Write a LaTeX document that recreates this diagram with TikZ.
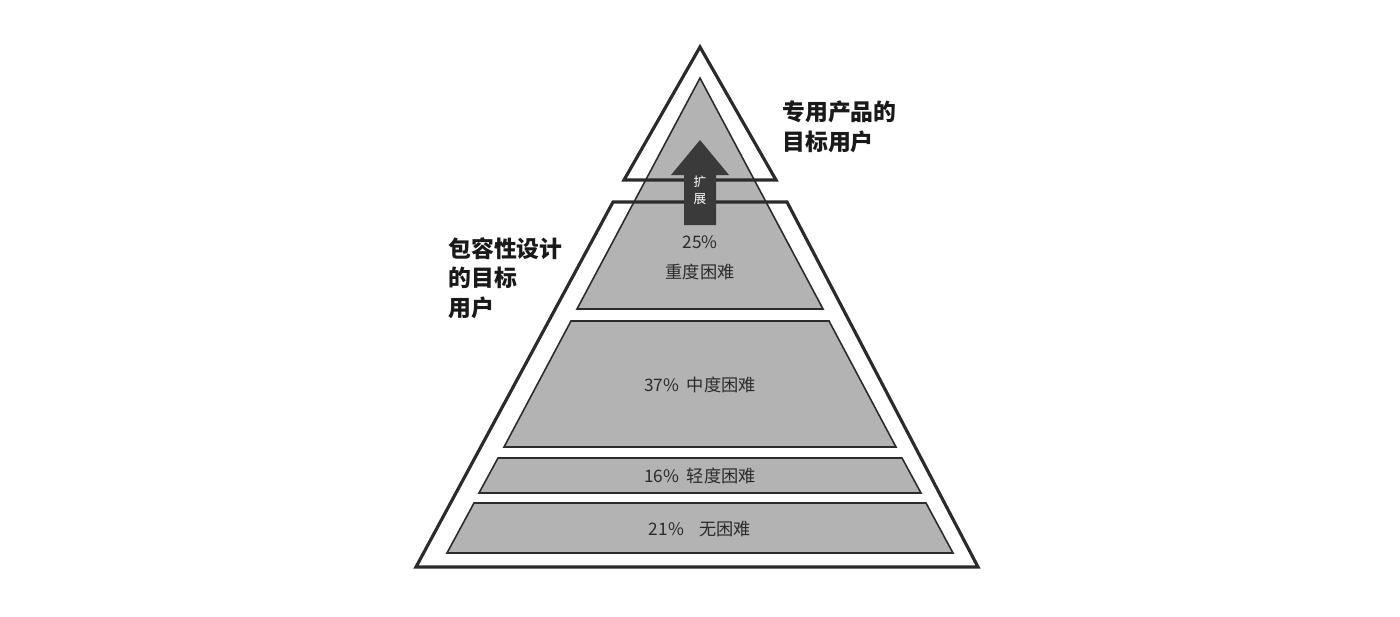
\documentclass[tikz,border=0pt]{standalone}
\usepackage{fontspec}
\newfontfamily\cjk{Noto Sans CJK SC}
\definecolor{edge}{HTML}{2B2B2B}
\definecolor{band}{HTML}{B3B3B3}
\definecolor{arrowgrey}{HTML}{3A3A3A}

\begin{document}
\begin{tikzpicture}[x=0.02cm,y=-0.02cm,
	layer/.style={draw=edge,fill=band,line width=0.9pt},
	frame/.style={draw=edge,line width=1.8pt},
	pct/.style={text=edge,font={\cjk\fontsize{9.8}{17}\selectfont},align=center},
	who/.style={text=black!90,font={\cjk\bfseries\fontsize{13}{16.8}\selectfont},align=left,anchor=west,inner sep=0pt}]
	\useasboundingbox[fill=white] (0,0) rectangle (1400,616);
	% grey layers
	\draw[layer] (700,78) -- (823,309) -- (577,309) -- cycle;
	\draw[layer] (571,321) -- (829,321) -- (896,447) -- (504,447) -- cycle;
	\draw[layer] (498,458) -- (902,458) -- (921,493) -- (479,493) -- cycle;
	\draw[layer] (474,503) -- (926,503) -- (953,553) -- (447,553) -- cycle;
	% outlines
	\draw[frame] (700,47) -- (776,180) -- (624,180) -- cycle;
	\draw[frame] (613,202) -- (787,202) -- (978,567) -- (416,567) -- cycle;
	% arrow
	\fill[arrowgrey] (700,140) -- (729,175) -- (716,175) -- (716,225) -- (684,225) -- (684,175) -- (671,175) -- cycle;
	\node[text=white,font={\cjk\fontsize{7.2}{10}\selectfont},align=center] (grow) at (700,190) {扩\\展};
	% labels
	\node[pct] (heavy) at (700,258) {25\%\\重度困难};
	\node[pct] (mid) at (700,385) {37\%\ \ 中度困难};
	\node[pct] (light) at (700,476) {16\%\ \ 轻度困难};
	\node[pct] (none) at (700,529) {21\%\ \ \ \ 无困难};
	\node[who] (special) at (782,127) {专用产品的\\目标用户};
	\node[who] (inclusive) at (448,278) {包容性设计\\的目标\\用户};
\end{tikzpicture}
\end{document}
